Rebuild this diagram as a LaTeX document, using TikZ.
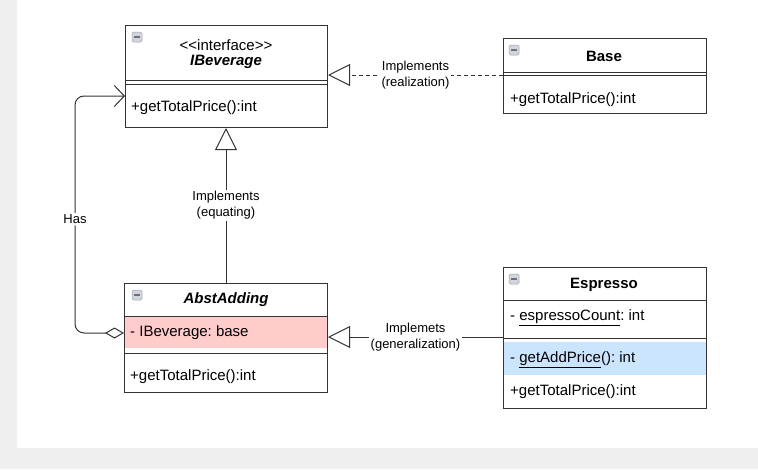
\documentclass[tikz,border=0pt]{standalone}
\usepackage{fontspec}
\setmainfont{Liberation Sans}
\usetikzlibrary{arrows.meta}
\frenchspacing

\newlength{\du}
\setlength{\du}{1pt}

\definecolor{umlline}{rgb}{0.200000, 0.200000, 0.200000}
\definecolor{pagegray}{rgb}{0.941176, 0.941176, 0.941176}
\definecolor{rowpink}{rgb}{1.000000, 0.800000, 0.800000}
\definecolor{rowblue}{rgb}{0.800000, 0.898039, 1.000000}
\definecolor{icongray}{rgb}{0.820000, 0.840000, 0.870000}
\definecolor{iconbar}{rgb}{0.420000, 0.440000, 0.480000}

\tikzset{
  umlbox/.style={draw=umlline, line width=1\du, fill=white, rectangle,
    anchor=north west, inner sep=0pt},
  sepline/.style={draw=umlline, line width=1\du},
  umltext/.style={anchor=west, inner sep=0pt, font=\fontsize{15}{17}\selectfont},
  umltitle/.style={inner sep=0pt, font=\fontsize{15}{17}\selectfont\bfseries},
  edgelabel/.style={fill=white, align=center, inner sep=1.5pt,
    font=\fontsize{13}{16}\selectfont},
  realizes/.style={draw=umlline, line width=1\du, miter limit=20,
    -{Triangle[fill=white, length=22pt, width=22pt]}},
  hasline/.style={draw=umlline, line width=1\du, rounded corners=9\du,
    {Diamond[fill=white, length=19pt, width=11pt]}-{Straight Barb[length=10pt, width=21pt]}},
  minusicon/.style={fill=icongray, draw=icongray!75!black, line width=0.5\du,
    rounded corners=1.5\du, minimum size=10\du, inner sep=0pt}
}

\newcommand{\boxicon}[2]{%
  \node[minusicon] (#1) at (#2) {};
  \draw[iconbar, line width=1.4\du] ([xshift=-2.8\du]#1.center) -- ([xshift=2.8\du]#1.center);
}

\begin{document}
\begin{tikzpicture}[x=1\du, y=-1\du]
% page background
\fill[pagegray] (0,0) rectangle (758,469);
\fill[white] (17,0) rectangle (758,448);
\useasboundingbox (0,0) rectangle (758,469);

% IBeverage
\node[umlbox, minimum width=202\du, minimum height=102\du] (ibev) at (125,25) {};
\draw[sepline] (125,80) -- (327,80);
\draw[sepline] (125,84) -- (327,84);
\boxicon{ibevicon}{137,37}
\node[inner sep=0pt, font=\fontsize{15}{17}\selectfont] (ibevstereo) at (226,45) {<\kern0pt<interface>\kern0pt>};
\node[umltitle] (ibevname) at (226,62) {\itshape IBeverage};
\node[umltext] (ibevop) at (131,108) {+getTotalPrice():int};

% Base
\node[umlbox, minimum width=203\du, minimum height=75\du] (base) at (503,38) {};
\draw[sepline] (503,72) -- (706,72);
\draw[sepline] (503,75) -- (706,75);
\boxicon{baseicon}{514,50}
\node[umltitle] (basename) at (604,56) {Base};
\node[umltext] (baseop) at (510,100) {+getTotalPrice():int};

% AbstAdding
\node[umlbox, minimum width=203\du, minimum height=109\du] (abst) at (124,283) {};
\fill[rowpink] (124.5,317) rectangle (326.5,348);
\draw[sepline] (124,316.5) -- (327,316.5);
\draw[sepline] (124,353) -- (327,353);
\boxicon{absticon}{137,295}
\node[umltitle] (abstname) at (226,300) {\itshape AbstAdding};
\node[umltext] (abstattr) at (130,333) {- IBeverage: base};
\node[umltext] (abstop) at (130,377) {+getTotalPrice():int};

% Espresso
\node[umlbox, minimum width=203\du, minimum height=141\du] (espresso) at (503,267) {};
\fill[rowblue] (503.5,342) rectangle (705.5,375);
\draw[sepline] (503,300) -- (706,300);
\draw[sepline] (503,338) -- (706,338);
\boxicon{espressoicon}{514,279}
\node[umltitle] (espressoname) at (604,285) {Espresso};
\node[umltext] (espressoattr) at (510,318) {- \underline{espressoCount}: int};
\node[umltext] (espressoadd) at (510,360) {- \underline{getAddPrice}(): int};
\node[umltext] (espressoop) at (510,392) {+getTotalPrice():int};

% connectors
\draw[realizes, dashed, dash pattern=on 4\du off 3\du]
  ([yshift=-37\du]base.north west) -- node[edgelabel] (reallabel) {Implements\\(realization)}
  ([yshift=-37\du]base.north west -| ibev.east);
\draw[realizes] (abst.north) -- node[edgelabel] (equlabel) {Implements\\(equating)}
  (abst.north |- ibev.south);
\draw[realizes] ([yshift=-70\du]espresso.north west) -- node[edgelabel] (genlabel) {Implemets\\(generalization)}
  ([yshift=-70\du]espresso.north west -| abst.east);
\draw[hasline] ([yshift=-50\du]abst.north west) -- (75,333)
  -- node[edgelabel, pos=0.48] (haslabel) {Has} (75,96) -- ([yshift=-71\du]ibev.north west);
\end{tikzpicture}
\end{document}
